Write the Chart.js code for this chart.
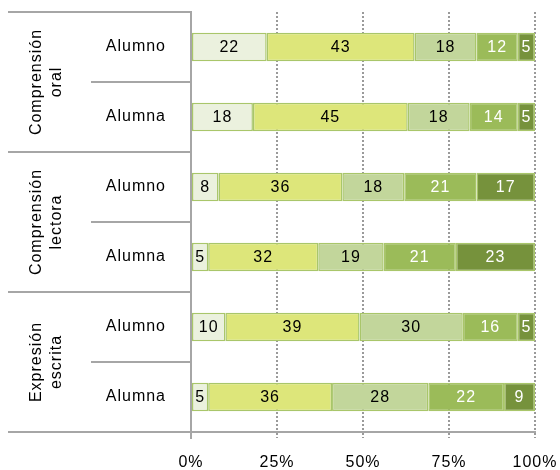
<!DOCTYPE html>
<html>
<head>
<meta charset="utf-8">
<script src="https://cdn.jsdelivr.net/npm/chart.js"></script>
<style>
  body { margin: 0; background: #fff; }
  #wrap { width: 560px; height: 470px; }
</style>
</head>
<body>
<div id="wrap"><canvas id="myChart"></canvas></div>
<script>
var categories = ['Alumno', 'Alumna', 'Alumno', 'Alumna', 'Alumno', 'Alumna'];
var groups = [['Comprensión', 'oral'], ['Comprensión', 'lectora'], ['Expresión', 'escrita']];
var tickLabels = ['0%', '25%', '50%', '75%', '100%'];

var serie1 = [22, 18, 8, 5, 10, 5];
var serie2 = [43, 45, 36, 32, 39, 36];
var serie3 = [18, 18, 18, 19, 30, 28];
var serie4 = [12, 14, 21, 21, 16, 22];
var serie5 = [5, 5, 17, 23, 5, 9];

var colores = ['#EBF1DE', '#DDE67A', '#C2D69B', '#9BBB59', '#76923C'];
var textColores = ['#000', '#000', '#000', '#fff', '#fff'];
var FONT = 'Liberation Sans, Arial, sans-serif';

// espaciado de letras parecido al original
var spacingPlugin = {
    id: 'spacingPlugin',
    beforeDraw: function(chart) { chart.ctx.letterSpacing = '1px'; }
};

// numeros dentro de las barras
var labelsPlugin = {
    id: 'labelsPlugin',
    afterDatasetsDraw: function(chart) {
        var ctx = chart.ctx;
        ctx.save();
        ctx.font = '16px ' + FONT;
        ctx.textAlign = 'center';
        ctx.textBaseline = 'middle';
        chart.data.datasets.forEach(function(ds, i) {
            var meta = chart.getDatasetMeta(i);
            meta.data.forEach(function(bar, j) {
                var x = (bar.x + bar.base) / 2;
                ctx.fillStyle = textColores[i];
                ctx.fillText(ds.data[j], x, bar.y + 1);
            });
        });
        ctx.restore();
    }
};

// lineas y titulos de grupos a la izquierda
var groupsPlugin = {
    id: 'groupsPlugin',
    afterDraw: function(chart) {
        var ctx = chart.ctx;
        var area = chart.chartArea;
        var step = (area.bottom - area.top) / categories.length;
        ctx.save();
        ctx.strokeStyle = '#a6a6a6';
        ctx.lineWidth = 2;
        for (var k = 0; k <= categories.length; k++) {
            var yy = Math.round(area.top + k * step);
            var x0 = (k % 2 === 0) ? 8 : 91;
            ctx.beginPath();
            ctx.moveTo(x0, yy);
            ctx.lineTo(area.left, yy);
            ctx.stroke();
        }
        // la linea vertical baja un poco bajo el eje
        ctx.beginPath();
        ctx.moveTo(area.left, area.bottom);
        ctx.lineTo(area.left, area.bottom + 7);
        ctx.stroke();
        ctx.fillStyle = '#000';
        ctx.font = '16px ' + FONT;
        ctx.textAlign = 'center';
        ctx.textBaseline = 'middle';
        groups.forEach(function(g, i) {
            var cy = area.top + (2 * i + 1) * step;
            ctx.save();
            ctx.translate(47, cy);
            ctx.rotate(-Math.PI / 2);
            ctx.fillText(g[0], 0, -10);
            ctx.fillText(g[1], 0, 10);
            ctx.restore();
        });
        ctx.restore();
    }
};

function viewChart() {
    var ctx = document.getElementById('myChart').getContext('2d');
    var series = [serie1, serie2, serie3, serie4, serie5];

    var myChart = new Chart(ctx, {
        type: 'bar',
        data: {
            labels: categories,
            datasets: series.map(function(s, i) {
                return {
                    label: 'Serie ' + (i + 1),
                    data: s,
                    backgroundColor: colores[i],
                    borderColor: '#A9C66A',
                    borderWidth: 1.5,
                    borderSkipped: false,
                    barPercentage: 0.41,
                    categoryPercentage: 1
                };
            })
        },
        options: {
            indexAxis: 'y',
            responsive: true,
            maintainAspectRatio: false,
            animation: false,
            layout: { padding: { top: 12, right: 25, left: 0, bottom: 0 } },
            plugins: { legend: { display: false }, tooltip: { enabled: false } },
            scales: {
                x: {
                    stacked: true,
                    min: 0,
                    max: 100,
                    afterFit: function(scale) {
                        scale.height = 38;
                        scale.paddingLeft = 0;
                        scale.paddingRight = 0;
                    },
                    afterBuildTicks: function(scale) {
                        scale.ticks = [0, 25, 50, 75, 100].map(function(v) { return { value: v }; });
                    },
                    ticks: {
                        color: '#000',
                        font: { size: 16, family: FONT },
                        padding: 15,
                        maxRotation: 0,
                        callback: function(v, i) { return tickLabels[i]; }
                    },
                    grid: {
                        color: function(c) { return c.index === 0 ? 'rgba(0,0,0,0)' : '#9a9a9a'; },
                        lineWidth: 2,
                        tickLength: 6,
                        tickColor: function(c) { return c.index === 0 ? 'rgba(0,0,0,0)' : '#9a9a9a'; },
                        tickBorderDash: [2, 2]
                    },
                    border: { display: true, color: '#a6a6a6', width: 2, dash: [2, 2] }
                },
                y: {
                    stacked: true,
                    afterFit: function(scale) {
                        scale.width = 191;
                        scale.paddingTop = 0;
                        scale.paddingBottom = 0;
                    },
                    ticks: {
                        color: '#000',
                        font: { size: 16, family: FONT },
                        padding: 17
                    },
                    grid: { display: false, drawOnChartArea: false },
                    border: { display: true, color: '#a6a6a6', width: 2 }
                }
            }
        },
        plugins: [spacingPlugin, labelsPlugin, groupsPlugin]
    });
}
viewChart();
</script>
</body>
</html>
